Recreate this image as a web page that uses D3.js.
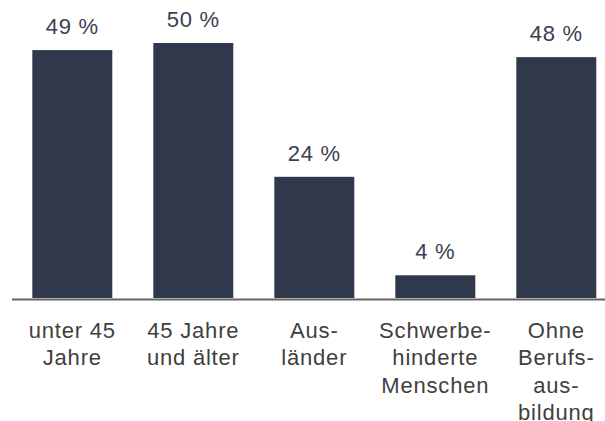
<!DOCTYPE html>
<html><head><meta charset="utf-8">
<script src="https://cdn.jsdelivr.net/npm/d3@7"></script>
<style>body{margin:0;background:#fff}svg{display:block}</style>
</head><body>
<svg id="c" width="605" height="421"></svg>
<script>
const categories = ["unter 45 Jahre","45 Jahre und älter","Ausländer","Schwerbehinderte Menschen","Ohne Berufsausbildung"];
const labelLines = [["unter 45","Jahre"],["45 Jahre","und älter"],["Aus-","länder"],["Schwerbe-","hinderte","Menschen"],["Ohne","Berufs-","aus-","bildung"]];
const values = [49.1, 50.5, 24.0, 4.5, 47.7];
const valueLabels = ["49 %","50 %","24 %","4 %","48 %"];

const svg = d3.select("#c");
const baseY = 298;
const x = d3.scaleBand().domain(categories).range([11.8, 616.8]).paddingInner(0.339).paddingOuter(0.1695);
const y = d3.scaleLinear().domain([0, 50.5]).range([baseY, 43]);

svg.selectAll("rect.bar").data(categories).join("rect")
  .attr("class","bar")
  .attr("x", d => x(d)).attr("width", x.bandwidth())
  .attr("y", (d,i) => y(values[i])).attr("height", (d,i) => baseY - y(values[i]))
  .attr("fill", "#30384c");

svg.append("line").attr("x1", 12).attr("x2", 605).attr("y1", 299.5).attr("y2", 299.5)
  .attr("stroke", "#646464").attr("stroke-width", 2);

const font = "'Liberation Sans', Arial, sans-serif";
svg.selectAll("text.val").data(categories).join("text")
  .attr("class","val")
  .attr("x", d => x(d) + x.bandwidth()/2)
  .attr("y", (d,i) => y(values[i]) - 16)
  .attr("text-anchor","middle")
  .attr("font-family", font).attr("font-size", 22).attr("letter-spacing", 0.7)
  .attr("fill", "#3a4052")
  .text((d,i) => valueLabels[i]);

const g = svg.selectAll("text.cat").data(categories).join("text")
  .attr("class","cat")
  .attr("text-anchor","middle")
  .attr("font-family", font).attr("font-size", 22).attr("letter-spacing", 0.8)
  .attr("fill", "#404040");
g.each(function(d,i){
  const t = d3.select(this);
  labelLines[i].forEach((ln, j) => {
    t.append("tspan").attr("x", x(d) + x.bandwidth()/2).attr("y", 337.5 + j*27.6).text(ln);
  });
});
</script>
</body></html>
